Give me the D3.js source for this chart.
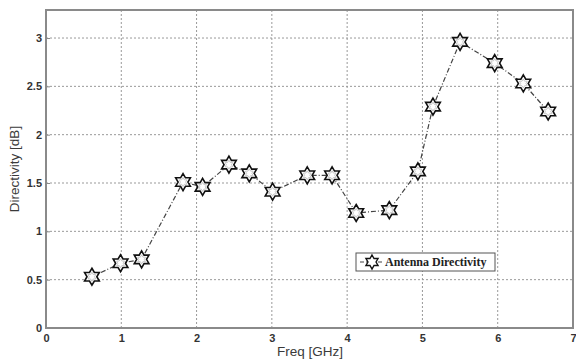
<html>
<head>
<script src="https://cdnjs.cloudflare.com/ajax/libs/d3/7.8.5/d3.min.js"></script>
<style>
  body { margin:0; background:#fff; }
  svg { display:block; }
</style>
</head>
<body>
<svg width="576" height="360"></svg>
<script>
// values
var freq = [0.61, 0.99, 1.27, 1.82, 2.08, 2.43, 2.70, 3.01, 3.47, 3.80, 4.12, 4.56, 4.94, 5.14, 5.50, 5.96, 6.34, 6.67];
var directivity = [0.53, 0.67, 0.71, 1.51, 1.46, 1.69, 1.60, 1.41, 1.58, 1.58, 1.19, 1.22, 1.62, 2.29, 2.96, 2.74, 2.53, 2.24];
var xTicks = [0, 1, 2, 3, 4, 5, 6, 7];
var yTicks = [0, 0.5, 1, 1.5, 2, 2.5, 3];
var seriesName = "Antenna Directivity";

var data = freq.map((f, i) => ({f: f, d: directivity[i]}));

var svg = d3.select("svg");
// plot box (window.top is read-only, so no plain "top")
var pL = 46, pR = 573, pT = 10, pB = 328;

var x = d3.scaleLinear().domain([0, 7]).range([pL, pR]);
var y = d3.scaleLinear().domain([0, 3.29]).range([pB, pT]);

// grid
svg.selectAll(".vg").data(xTicks.slice(1, -1)).enter().append("line")
  .attr("x1", d => x(d)).attr("x2", d => x(d)).attr("y1", pT).attr("y2", pB)
  .style("stroke", "#999").style("stroke-width", 1).style("stroke-dasharray", "2,2");
svg.selectAll(".hg").data(yTicks.slice(1)).enter().append("line")
  .attr("x1", pL).attr("x2", pR).attr("y1", d => y(d)).attr("y2", d => y(d))
  .style("stroke", "#999").style("stroke-width", 1).style("stroke-dasharray", "2,2");

// frame
svg.append("rect").attr("x", pL).attr("y", pT).attr("width", pR - pL).attr("height", pB - pT)
  .style("fill", "none").style("stroke", "#8a8a8a").style("stroke-width", 2);

// axes
var xAxis = svg.append("g").attr("transform", "translate(0," + pB + ")")
  .call(d3.axisBottom(x).tickValues(xTicks).tickSize(0).tickPadding(6).tickFormat(d3.format("d")));
var yAxis = svg.append("g").attr("transform", "translate(" + pL + ",0)")
  .call(d3.axisLeft(y).tickValues(yTicks).tickSize(-4).tickPadding(4).tickFormat(d => d));
[xAxis, yAxis].forEach(g => {
  g.select(".domain").remove();
  g.selectAll("line").style("stroke", "#8a8a8a");
  g.selectAll("text").style("font-family", "Liberation Sans, Arial, sans-serif")
    .style("font-size", "11px").style("font-weight", "bold").style("fill", "#333");
});

svg.append("text").attr("x", 310).attr("y", 356).attr("text-anchor", "middle")
  .style("font-family", "Liberation Sans, Arial, sans-serif").style("font-size", "13.5px").style("fill", "#3a3a3a")
  .text("Freq [GHz]");
svg.append("text").attr("transform", "translate(19," + 169 + ") rotate(-90)").attr("text-anchor", "middle")
  .style("font-family", "Liberation Sans, Arial, sans-serif").style("font-size", "13.5px").style("fill", "#3a3a3a")
  .text("Directivity [dB]");

// hexagram marker
function hexagram(r) {
  var pts = [];
  for (var i = 0; i < 12; i++) {
    var a = -Math.PI / 2 + i * Math.PI / 6;
    var rr = i % 2 == 0 ? r : r / Math.sqrt(3);
    pts.push([rr * Math.cos(a), rr * Math.sin(a)]);
  }
  return "M" + pts.join("L") + "Z";
}

var line = d3.line().x(d => x(d.f)).y(d => y(d.d));
svg.append("path").datum(data).attr("d", line)
  .style("fill", "none").style("stroke", "#444").style("stroke-width", 1.2).style("stroke-dasharray", "5,2,1,2");

var marks = svg.selectAll(".m").data(data).enter().append("g")
  .attr("transform", d => "translate(" + x(d.f) + "," + y(d.d) + ")");
marks.append("path").attr("d", hexagram(8.5))
  .style("fill", "#fff").style("stroke", "#111").style("stroke-width", 1.6);
marks.append("path").attr("d", hexagram(4.5))
  .style("fill", "none").style("stroke", "#bbb").style("stroke-width", 0.8);

// legend
var lg = svg.append("g");
lg.append("rect").attr("x", 356).attr("y", 253).attr("width", 139).attr("height", 18)
  .style("fill", "#fff").style("stroke", "#555").style("stroke-width", 1);
lg.append("line").attr("x1", 360).attr("x2", 384).attr("y1", 262).attr("y2", 262)
  .style("stroke", "#444").style("stroke-width", 1.2).style("stroke-dasharray", "4,2,1,2");
lg.append("path").attr("d", hexagram(7)).attr("transform", "translate(372,262)")
  .style("fill", "#fff").style("stroke", "#111").style("stroke-width", 1.4);
lg.append("text").attr("x", 385).attr("y", 266)
  .style("font-family", "Liberation Serif, Times New Roman, serif").style("font-size", "12px").style("font-weight", "bold").style("fill", "#222")
  .text(seriesName);
</script>
</body>
</html>
